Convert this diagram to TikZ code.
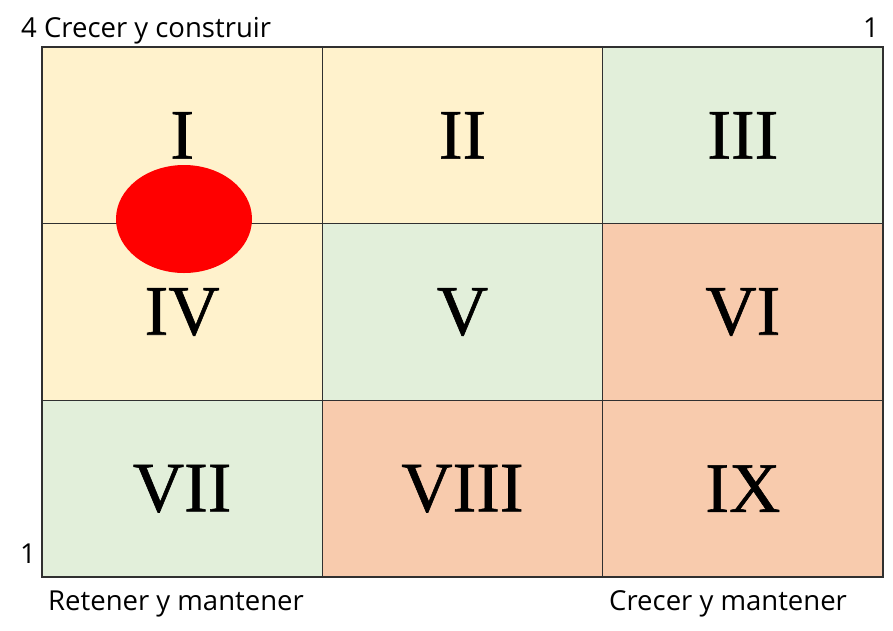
\documentclass[tikz,border=0pt]{standalone}
\usepackage{fontspec}
\setmainfont{Liberation Serif}
\newfontfamily\numfont[FakeBold=0.8]{Liberation Serif}
\newfontfamily\labelfont{Open Sans}
\definecolor{cellyellow}{HTML}{FFF2CC}
\definecolor{cellgreen}{HTML}{E2EFDA}
\definecolor{cellsalmon}{HTML}{F8CBAD}
\definecolor{gridline}{HTML}{303030}
\begin{document}
\begin{tikzpicture}[x=1pt,y=-1pt,
  cell/.style={draw=gridline,line width=1.4pt},
  numeral/.style={font=\numfont\fontsize{71}{71}\selectfont,anchor=center},
  axislabel/.style={font=\labelfont\fontsize{27.5}{27.5}\selectfont,inner sep=0pt,anchor=base west}]
\useasboundingbox (0,0) rectangle (893,630);
% 3x3 matrix cells with their numerals
\foreach \r/\c/\col/\lab [count=\i] in {
  0/0/cellyellow/I, 0/1/cellyellow/II, 0/2/cellgreen/III,
  1/0/cellyellow/IV, 1/1/cellgreen/V, 1/2/cellsalmon/VI,
  2/0/cellgreen/VII, 2/1/cellsalmon/VIII, 2/2/cellsalmon/IX}{
  \pgfmathsetmacro\xa{42+280.33*\c}
  \pgfmathsetmacro\xb{42+280.33*(\c+1)}
  \pgfmathsetmacro\ya{47+176.67*\r}
  \pgfmathsetmacro\yb{47+176.67*(\r+1)}
  \path[cell,fill=\col] (\xa,\ya) rectangle (\xb,\yb);
  \node[numeral] (n\i) at ({(\xa+\xb)/2},{(\ya+\yb)/2}) {\lab};
}
% marker
\fill[red] (184,219) ellipse [x radius=68,y radius=54];
% axis labels
\node[axislabel] (tl) at (21,37) {4 Crecer y construir};
\node[axislabel,anchor=base east] (tr) at (879,37) {1};
\node[axislabel,anchor=base east] (bl) at (36,563) {1};
\node[axislabel] (rm) at (48,610) {Retener y mantener};
\node[axislabel] (cm) at (609,610) {Crecer y mantener};
\end{tikzpicture}
\end{document}
